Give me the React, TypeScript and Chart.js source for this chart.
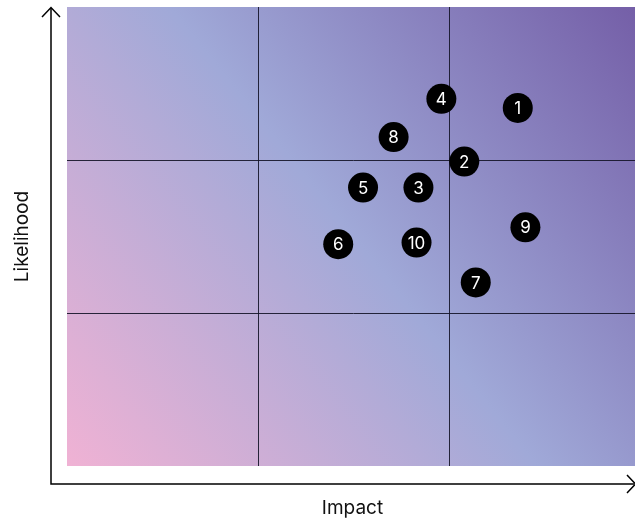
import React, { useEffect, useRef } from "react";
import { Chart, registerables } from "chart.js";

Chart.register(...registerables);

// ---- data ----
const riskLabels = ["1", "2", "3", "4", "5", "6", "7", "8", "9", "10"];
const impactValues = [2.36, 2.08, 1.84, 1.96, 1.55, 1.42, 2.14, 1.71, 2.4, 1.83];
const likelihoodValues = [2.34, 1.99, 1.82, 2.4, 1.82, 1.45, 1.2, 2.15, 1.56, 1.46];
const axisMin = 0;
const axisMax = 3;
const gridDividers = [1, 2];
const xTitle = "Impact";
const yTitle = "Likelihood";

const FONT = "Inter, 'Liberation Sans', Arial, sans-serif";

const backgroundPlugin = {
  id: "bgGradient",
  beforeDraw(chart: any) {
    const { ctx, chartArea } = chart;
    const { left, top, right, bottom } = chartArea;
    const g = ctx.createLinearGradient(left, bottom, right, top);
    g.addColorStop(0, "#f0b2d4");
    g.addColorStop(0.5, "#a0a9d8");
    g.addColorStop(1, "#745ea7");
    ctx.save();
    ctx.fillStyle = g;
    ctx.fillRect(left, top, right - left, bottom - top);
    ctx.restore();
  },
};

const decorPlugin = {
  id: "decor",
  afterDraw(chart: any) {
    const { ctx, chartArea } = chart;
    const { left, top, right, bottom } = chartArea;
    const ax = left - 16;
    const ay = bottom + 18;
    ctx.save();
    ctx.strokeStyle = "#000";
    ctx.lineWidth = 1.5;
    ctx.lineCap = "butt";
    ctx.lineJoin = "miter";
    // axes lines
    ctx.beginPath();
    ctx.moveTo(ax, top + 1);
    ctx.lineTo(ax, ay);
    ctx.lineTo(right - 6, ay);
    ctx.stroke();
    // up arrow head
    ctx.beginPath();
    ctx.moveTo(ax - 9, top + 10);
    ctx.lineTo(ax, top + 0.5);
    ctx.lineTo(ax + 9, top + 10);
    ctx.stroke();
    // right arrow head
    ctx.beginPath();
    ctx.moveTo(right - 13, ay - 9);
    ctx.lineTo(right - 4.5, ay);
    ctx.lineTo(right - 13, ay + 9);
    ctx.stroke();

    // titles
    ctx.fillStyle = "#111";
    ctx.font = `19px ${FONT}`;
    ctx.textAlign = "center";
    ctx.textBaseline = "middle";
    ctx.fillText(xTitle, (left + right) / 2 - 1, ay + 24);
    ctx.translate(ax - 29, (top + bottom) / 2);
    ctx.rotate(-Math.PI / 2);
    ctx.fillText(yTitle, 0, 0);
    ctx.restore();
  },
};

const labelPlugin = {
  id: "pointLabels",
  afterDatasetsDraw(chart: any) {
    const { ctx } = chart;
    const meta = chart.getDatasetMeta(0);
    ctx.save();
    ctx.fillStyle = "#ffffff";
    ctx.font = `17px ${FONT}`;
    ctx.textAlign = "center";
    ctx.textBaseline = "middle";
    meta.data.forEach((el: any, i: number) => {
      ctx.fillText(riskLabels[i], el.x, el.y + 1);
    });
    ctx.restore();
  },
};

export default function App() {
  const ref = useRef<HTMLCanvasElement | null>(null);

  useEffect(() => {
    if (!ref.current) return;
    const gridColor = (c: any) =>
      gridDividers.includes(c.tick?.value) ? "rgba(20,20,40,0.9)" : "rgba(0,0,0,0)";
    const chart = new Chart(ref.current, {
      type: "scatter",
      data: {
        labels: riskLabels,
        datasets: [
          {
            data: impactValues.map((x, i) => ({ x, y: likelihoodValues[i] })),
            backgroundColor: "#000000",
            borderWidth: 0,
            pointRadius: 15,
            pointHoverRadius: 15,
            clip: false as any,
          },
        ],
      },
      options: {
        animation: false,
        responsive: false,
        events: [],
        layout: { autoPadding: false, padding: { left: 67, top: 7, right: 5, bottom: 53 } },
        plugins: { legend: { display: false }, tooltip: { enabled: false } },
        scales: {
          x: {
            type: "linear",
            min: axisMin,
            max: axisMax,
            ticks: { display: false, stepSize: 1 },
            border: { display: false },
            grid: { color: gridColor, lineWidth: 1, drawTicks: false },
          },
          y: {
            type: "linear",
            min: axisMin,
            max: axisMax,
            ticks: { display: false, stepSize: 1 },
            border: { display: false },
            grid: { color: gridColor, lineWidth: 1, drawTicks: false },
          },
        },
      },
      plugins: [backgroundPlugin, decorPlugin, labelPlugin],
    });
    return () => chart.destroy();
  }, []);

  return (
    <div
      style={{
        position: "absolute",
        left: 0,
        top: 0,
        width: 635,
        height: 519,
        overflow: "hidden",
        background: "#fff",
      }}
    >
      <canvas ref={ref} width={645} height={519} style={{ display: "block" }} />
    </div>
  );
}
